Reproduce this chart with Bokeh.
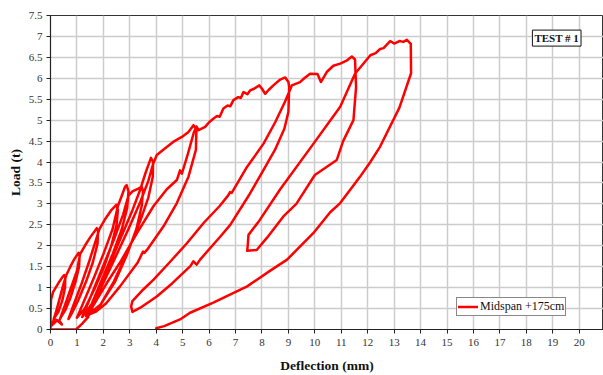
from bokeh.plotting import figure
from bokeh.models import Range1d, FixedTicker, Legend, LegendItem, Label
from bokeh.embed import file_html
from bokeh.resources import INLINE

# Load–deflection record, midspan gauge at +175 cm (cyclic loading, TEST # 1)
deflection_mm = [
    1.43, 1.2, 0.97, 0.5, 0.0,
    0.0, 0.02, 0.1, 0.3, 0.45, 0.52,
    0.56, 0.55, 0.45, 0.3, 0.15, 0.05, 0.25, 0.43, 0.35, 0.12,
    0.2, 0.35, 0.5, 0.6, 0.75, 0.9, 1.06,
    1.1, 1.08, 0.95, 0.75, 0.55, 0.4, 0.36,
    0.5, 0.75, 1.0, 1.12, 1.3, 1.5, 1.75,
    1.8, 1.78, 1.6, 1.35, 1.05, 0.8, 0.68,
    0.85, 1.15, 1.45, 1.7, 1.85, 2.05, 2.31, 2.5,
    2.55, 2.5, 2.3, 2.0, 1.65, 1.3, 1.0,
    1.25, 1.65, 2.0, 2.35, 2.55, 2.7, 2.82, 2.88,
    2.95, 2.9, 2.7, 2.35, 1.95, 1.55, 1.2,
    1.5, 1.95, 2.4, 2.75, 2.95, 3.1, 3.3, 3.45,
    3.5, 3.45, 3.25, 2.9, 2.45, 1.9, 1.35,
    1.7, 2.2, 2.7, 3.1, 3.4, 3.6, 3.8,
    3.88, 3.87, 3.7, 3.4, 2.95, 2.4, 1.9, 1.43,
    1.8, 2.4, 2.95, 3.4, 3.7, 3.88, 4.02, 4.34, 4.64, 4.97, 5.22, 5.41,
    5.52, 5.5, 5.22, 4.78, 4.27, 3.65, 3.55, 3.5, 3.3, 2.63, 2.1, 1.7, 1.47,
    1.6, 2.13, 2.63, 3.27, 3.9, 4.4, 4.78, 4.9, 4.97, 5.2, 5.41, 5.52, 5.6,
    5.85, 6.0, 6.17, 6.3, 6.4, 6.54, 6.7, 6.8, 6.92, 7.1, 7.2, 7.3, 7.45,
    7.55, 7.7, 7.9, 8.0, 8.12, 8.25, 8.43, 8.69, 8.88, 9.0,
    9.03, 9.0, 8.85, 8.5, 8.06, 7.5, 6.8, 6.41, 5.66, 5.53, 5.4, 5.3, 4.6,
    4.02, 3.4, 3.1,
    3.05, 3.1, 3.5, 3.9, 4.5, 5.16, 5.8, 6.4, 6.73, 6.79, 6.85, 7.4, 8.06,
    8.5, 8.87, 9.13, 9.44, 9.6, 9.82, 10.1, 10.23, 10.45, 10.7, 10.96, 11.2,
    11.4, 11.52,
    11.56, 11.46, 11.07, 10.83, 10.0, 9.3, 8.81, 8.2, 7.8, 7.44,
    7.46, 7.49, 7.9, 8.69, 9.95, 10.96, 11.52, 12.1, 12.3, 12.47, 12.6,
    12.85, 13.0, 13.2, 13.35, 13.48, 13.63,
    13.64, 13.2, 12.47, 12.1, 11.7, 10.96, 10.58, 9.94, 8.95, 8.3, 7.44,
    6.16, 5.28, 4.9, 4.3, 4.0,
]
load_t = [
    0.3, 0.14, 0.0, 0.0, 0.0,
    0.35, 0.71, 0.9, 1.11, 1.25, 1.3,
    1.25, 1.0, 0.7, 0.42, 0.28, 0.1, 0.22, 0.12, 0.2, 0.25,
    0.4, 0.75, 1.1, 1.3, 1.5, 1.68, 1.83,
    1.75, 1.5, 1.15, 0.75, 0.45, 0.3, 0.25,
    0.5, 0.95, 1.4, 1.8, 2.0, 2.2, 2.42,
    2.35, 2.05, 1.6, 1.15, 0.7, 0.38, 0.25,
    0.55, 1.05, 1.6, 2.1, 2.4, 2.62, 2.86, 2.98,
    2.85, 2.5, 2.0, 1.45, 0.95, 0.5, 0.28,
    0.65, 1.25, 1.8, 2.4, 2.95, 3.2, 3.41, 3.45,
    3.3, 2.9, 2.4, 1.8, 1.2, 0.6, 0.3,
    0.75, 1.45, 2.15, 2.75, 3.2, 3.3, 3.36, 3.41,
    3.3, 2.95, 2.4, 1.8, 1.15, 0.6, 0.32,
    0.8, 1.5, 2.25, 2.85, 3.35, 3.75, 4.1,
    4.0, 3.65, 3.15, 2.6, 1.9, 1.15, 0.6, 0.33,
    0.85, 1.65, 2.4, 3.05, 3.55, 3.95, 4.17, 4.33, 4.48, 4.6, 4.72, 4.88,
    4.78, 4.29, 3.65, 3.02, 2.46, 1.9, 1.83, 1.86, 1.6, 1.03, 0.62, 0.42, 0.36,
    0.55, 1.11, 1.6, 2.3, 2.95, 3.35, 3.57, 3.8, 3.72, 4.2, 4.68, 4.85, 4.76,
    4.84, 4.95, 5.04, 5.1, 5.08, 5.28, 5.35, 5.33, 5.48, 5.55, 5.53, 5.67, 5.62,
    5.71, 5.75, 5.83, 5.75, 5.63, 5.72, 5.83, 5.97, 6.02, 5.91,
    5.79, 5.2, 4.8, 4.3, 3.81, 3.2, 2.5, 2.21, 1.67, 1.55, 1.63, 1.52, 1.1,
    0.79, 0.52, 0.42,
    0.55, 0.68, 0.95, 1.19, 1.6, 2.06, 2.55, 2.95, 3.21, 3.28, 3.26, 3.85, 4.44,
    4.95, 5.44, 5.83, 5.91, 6.0, 6.11, 6.1, 5.91, 6.15, 6.3, 6.35, 6.42,
    6.52, 6.45,
    5.79, 5.0, 4.5, 4.05, 3.69, 3.0, 2.7, 2.2, 1.9, 1.88,
    2.0, 2.26, 2.6, 3.35, 4.44, 5.32, 6.11, 6.55, 6.6, 6.7, 6.72,
    6.89, 6.83, 6.89, 6.87, 6.92, 6.82,
    6.12, 5.3, 4.37, 4.0, 3.64, 3.02, 2.8, 2.3, 1.67, 1.4, 1.03,
    0.64, 0.4, 0.24, 0.08, 0.03,
]

x_ticks = list(range(0, 21))
y_ticks = [0, 0.5, 1, 1.5, 2, 2.5, 3, 3.5, 4, 4.5, 5, 5.5, 6, 6.5, 7, 7.5]
y_tick_labels = ["0", "0.5", "1", "1.5", "2", "2.5", "3", "3.5", "4",
                 "4.5", "5", "5.5", "6", "6.5", "7", "7.5"]

SERIF = "'Liberation Serif', 'Times New Roman', serif"

p = figure(width=603, height=375, output_backend="svg", toolbar_location=None,
           x_range=Range1d(0, 20.92), y_range=Range1d(0, 7.5),
           min_border_left=50, min_border_right=0,
           min_border_top=15, min_border_bottom=45)

p.background_fill_color = "white"
p.border_fill_color = "white"
p.outline_line_color = "#333333"
p.outline_line_width = 1

# grid
p.xgrid.ticker = FixedTicker(ticks=x_ticks)
p.ygrid.ticker = FixedTicker(ticks=y_ticks)
for g in (p.xgrid, p.ygrid):
    g.grid_line_color = "#cccccc"
    g.grid_line_width = 1.5

# axes
p.xaxis.ticker = FixedTicker(ticks=x_ticks)
p.yaxis.ticker = FixedTicker(ticks=y_ticks)
p.yaxis.major_label_overrides = {t: s for t, s in zip(y_ticks, y_tick_labels)}
for ax in (p.xaxis, p.yaxis):
    ax.axis_line_color = "#222222"
    ax.axis_line_width = 1.2
    ax.major_tick_line_color = "#222222"
    ax.major_tick_out = 4
    ax.major_tick_in = 0
    ax.minor_tick_line_color = None
    ax.major_label_text_font = SERIF
    ax.major_label_text_font_size = "11px"
    ax.major_label_text_color = "#333333"
    ax.axis_label_text_font = SERIF
    ax.axis_label_text_font_size = "13.5px"
    ax.axis_label_text_font_style = "bold"
    ax.axis_label_text_color = "#111111"

p.xaxis.axis_label = "Deflection (mm)"
p.yaxis.axis_label = "Load (t)"
p.xaxis.major_label_standoff = 5
p.yaxis.major_label_standoff = 4
p.xaxis.axis_label_standoff = 9
p.yaxis.axis_label_standoff = 3

r = p.line(deflection_mm, load_t, line_color="#ff0000", line_width=2.5,
           line_join="round", line_cap="round")

legend = Legend(items=[LegendItem(label="Midspan +175cm", renderers=[r])],
                location=(406, 13), orientation="vertical")
legend.border_line_color = "#111111"
legend.border_line_width = 1
legend.background_fill_color = "white"
legend.background_fill_alpha = 1
legend.label_text_font = SERIF
legend.label_text_font_size = "12px"
legend.label_text_color = "#111111"
legend.glyph_width = 20
legend.glyph_height = 11
legend.label_height = 11
legend.label_standoff = 2
legend.padding = 1
legend.spacing = 0
legend.margin = 0
p.add_layout(legend)

p.add_layout(Label(x=19.15, y=6.96, text="TEST # 1", text_font=SERIF,
                   text_font_size="11px", text_font_style="bold",
                   text_align="center", text_baseline="middle",
                   text_color="#111111", border_line_color="#111111",
                   border_line_width=1, background_fill_color="white",
                   padding=2))

open("out.html", "w").write(file_html(p, INLINE))
